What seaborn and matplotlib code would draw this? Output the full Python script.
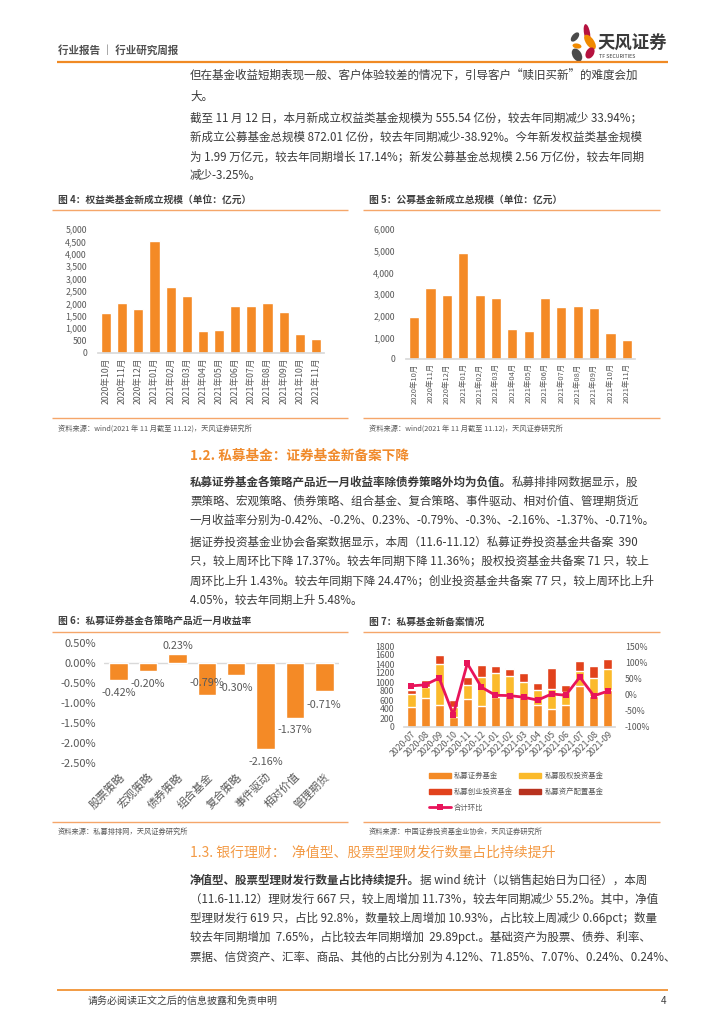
import numpy as np
import matplotlib
matplotlib.use("Agg")
import matplotlib.pyplot as plt
import seaborn as sns
from matplotlib.patches import Patch, Ellipse
from matplotlib.lines import Line2D
from matplotlib.ticker import FuncFormatter

# ---------------- data ----------------
months_a = ["2020年10月", "2020年11月", "2020年12月", "2021年01月", "2021年02月", "2021年03月",
            "2021年04月", "2021年05月", "2021年06月", "2021年07月", "2021年08月", "2021年09月",
            "2021年10月", "2021年11月"]
equity_new = [1595, 2000, 1757, 4500, 2650, 2310, 880, 945, 1880, 1890, 2015, 1650, 760, 556]
public_new = [1940, 3275, 2940, 4890, 2955, 2800, 1400, 1310, 2815, 2415, 2460, 2340, 1185, 872]

strategies = ["股票策略", "宏观策略", "债券策略", "组合基金", "复合策略", "事件驱动", "相对价值", "管理期货"]
returns = [-0.42, -0.20, 0.23, -0.79, -0.30, -2.16, -1.37, -0.71]

months_b = ["2020-07", "2020-08", "2020-09", "2020-10", "2020-11", "2020-12", "2021-01", "2021-02",
            "2021-03", "2021-04", "2021-05", "2021-06", "2021-07", "2021-08", "2021-09"]
sec_funds = [440, 655, 500, 230, 615, 460, 670, 700, 660, 480, 400, 480, 905, 700, 815]
equity_funds = [285, 245, 905, 210, 310, 650, 540, 440, 350, 335, 455, 300, 335, 400, 470]
venture_funds = [105, 145, 190, 155, 195, 270, 145, 160, 180, 165, 450, 160, 220, 260, 225]
asset_funds = [8, 6, 10, 5, 8, 12, 6, 8, 7, 6, 10, 5, 12, 8, 10]
total_mom = [27, 30, 51, -62, 96, 23, -2, -3, -8, -17, 2, -2, 54, -4, 11]

legend_labels = ["私募证券基金", "私募股权投资基金", "私募创业投资基金", "私募资产配置基金", "合计环比"]

# ---------------- style ----------------
ORANGE = "#F48A26"
YELLOW = "#FBBA2B"
RED = "#E2421C"
DARKRED = "#B8321E"
PINK = "#E8145A"
LINE_OR = "#F5A66A"
TXT = "#3A3A3A"
GREY = "#595959"

sns.set_theme(style="white")
plt.rcParams["font.family"] = ["Noto Sans CJK SC", "DejaVu Sans"]
plt.rcParams["axes.unicode_minus"] = False

W, H = 724, 1024
fig = plt.figure(figsize=(7.24, 10.24), dpi=100)
bg = fig.add_axes([0, 0, 1, 1])
bg.set_xlim(0, W)
bg.set_ylim(H, 0)
bg.axis("off")


def rect(x0, y0, x1, y1):
    return [x0 / W, 1 - y1 / H, (x1 - x0) / W, (y1 - y0) / H]


def hline(x0, x1, y, color=LINE_OR, lw=1.0):
    bg.plot([x0, x1], [y, y], color=color, lw=lw, solid_capstyle="butt")


# ---------------- header ----------------
bg.text(58, 50, "行业报告 ｜ 行业研究周报", fontsize=7.6, color="#505050", weight="bold", va="center")
hline(57, 668, 62, color="#F08A24", lw=1.6)
# logo
for (cx, cy, w, h, ang, c) in [
    (587, 33, 6, 18, -10, "#B5123F"),
    (590, 42, 8, 17, -35, "#F08A00"),
    (575, 37, 6, 11, 40, "#4A4A4A"),
    (577, 46, 9, 5, 10, "#F08A00"),
    (577, 55, 9, 14, -30, "#4A4A4A"),
    (590, 53, 8, 12, 30, "#B5123F"),
]:
    bg.add_patch(Ellipse((cx, cy), w, h, angle=ang, color=c, lw=0))
bg.text(598, 44, "天风证券", fontsize=12.5, weight="bold", color="#3A3A3A", va="center")
bg.text(599, 56.5, "TF SECURITIES", fontsize=3.8, color="#3A3A3A", va="center")

# ---------------- body text ----------------
FS = 8.3
LX = 190


def para(lines, y0, step=19.3):
    for i, s in enumerate(lines):
        bg.text(LX, y0 + i * step, s, fontsize=FS, color=TXT, va="center")


def bold_line(bold, rest, y):
    t = bg.text(LX, y, bold, fontsize=FS, color=TXT, weight="bold", va="center")
    bg.annotate(rest, xy=(1, 0.5), xycoords=t, fontsize=FS, color=TXT, va="center", ha="left")


para(["但在基金收益短期表现一般、客户体验较差的情况下，引导客户“赎旧买新”的难度会加",
      "大。"], 76, step=20)
para(["截至 11 月 12 日，本月新成立权益类基金规模为 555.54 亿份，较去年同期减少 33.94%；",
      "新成立公募基金总规模 872.01 亿份，较去年同期减少-38.92%。今年新发权益类基金规模",
      "为 1.99 万亿元，较去年同期增长 17.14%；新发公募基金总规模 2.56 万亿份，较去年同期",
      "减少-3.25%。"], 118)

bg.text(LX, 456, "1.2. 私募基金：证券基金新备案下降", fontsize=9.8, color="#F08A2B", weight="bold", va="center")
bold_line("私募证券基金各策略产品近一月收益率除债券策略外均为负值。", "私募排排网数据显示，股", 482)
para(["票策略、宏观策略、债券策略、组合基金、复合策略、事件驱动、相对价值、管理期货近",
      "一月收益率分别为-0.42%、-0.2%、0.23%、-0.79%、-0.3%、-2.16%、-1.37%、-0.71%。"], 501.5)
para(["据证券投资基金业协会备案数据显示，本周（11.6-11.12）私募证券投资基金共备案  390",
      "只，较上周环比下降 17.37%。较去年同期下降 11.36%；股权投资基金共备案 71 只，较上",
      "周环比上升 1.43%。较去年同期下降 24.47%；创业投资基金共备案 77 只，较上周环比上升",
      "4.05%，较去年同期上升 5.48%。"], 542)

bg.text(LX, 853, "1.3. 银行理财：  净值型、股票型理财发行数量占比持续提升", fontsize=10, color="#F39A45", va="center")
bold_line("净值型、股票型理财发行数量占比持续提升。", "据 wind 统计（以销售起始日为口径），本周", 880)
para(["（11.6-11.12）理财发行 667 只，较上周增加 11.73%，较去年同期减少 55.2%。其中，净值",
      "型理财发行 619 只，占比 92.8%，数量较上周增加 10.93%，占比较上周减少 0.66pct；数量",
      "较去年同期增加  7.65%，占比较去年同期增加  29.89pct.。基础资产为股票、债券、利率、",
      "票据、信贷资产、汇率、商品、其他的占比分别为 4.12%、71.85%、7.07%、0.24%、0.24%、"], 899)

# footer
hline(57, 668, 990, color="#F08A24", lw=1.2)
bg.text(88, 1001, "请务必阅读正文之后的信息披露和免责申明", fontsize=7.2, color="#404040", va="center")
bg.text(666, 1001, "4", fontsize=7.2, color="#404040", va="center", ha="right")

# ---------------- chart titles / sources ----------------
TFS = 7.0
SFS = 5.2
bg.text(58, 200, "图 4：权益类基金新成立规模（单位：亿元）", fontsize=TFS, weight="bold", color="#404040", va="center")
bg.text(369, 200, "图 5：公募基金新成立总规模（单位：亿元）", fontsize=TFS, weight="bold", color="#404040", va="center")
hline(52, 348, 210)
hline(363, 660, 210)
hline(52, 348, 418)
hline(363, 660, 418)
bg.text(58, 429, "资料来源：wind(2021 年 11 月截至 11.12)，天风证券研究所", fontsize=SFS, color=GREY, va="center")
bg.text(369, 429, "资料来源：wind(2021 年 11 月截至 11.12)，天风证券研究所", fontsize=SFS, color=GREY, va="center")

bg.text(58, 622, "图 6：私募证券基金各策略产品近一月收益率", fontsize=TFS, weight="bold", color="#404040", va="center")
bg.text(369, 622, "图 7：私募基金新备案情况", fontsize=TFS, weight="bold", color="#404040", va="center")
hline(52, 348, 632)
hline(363, 660, 632)
hline(52, 348, 822)
hline(363, 660, 822)
bg.text(58, 832, "资料来源：私募排排网，天风证券研究所", fontsize=SFS, color=GREY, va="center")
bg.text(369, 832, "资料来源：中国证券投资基金业协会，天风证券研究所", fontsize=SFS, color=GREY, va="center")


def clean(ax, left=True):
    sns.despine(ax=ax, left=left)
    ax.spines["bottom"].set_color("#D9D9D9")
    ax.set_xlabel("")
    ax.set_ylabel("")


# ---------------- chart 4 ----------------
ax4 = fig.add_axes(rect(98, 229, 324, 353))
sns.barplot(x=months_a, y=equity_new, color=ORANGE, saturation=1, width=0.62, errorbar=None, ax=ax4)
ax4.set_ylim(0, 5000)
ax4.set_yticks(np.arange(0, 5001, 500))
ax4.yaxis.set_major_formatter(FuncFormatter(lambda v, p: f"{int(v):,}"))
ax4.tick_params(axis="both", length=0, labelsize=6.3, colors=GREY)
ax4.tick_params(axis="x", labelrotation=90, pad=3)
ax4.tick_params(axis="y", pad=8)
clean(ax4)

# ---------------- chart 5 ----------------
ax5 = fig.add_axes(rect(406, 229, 635, 359))
sns.barplot(x=months_a, y=public_new, color=ORANGE, saturation=1, width=0.62, errorbar=None, ax=ax5)
ax5.set_ylim(0, 6000)
ax5.set_yticks(np.arange(0, 6001, 1000))
ax5.yaxis.set_major_formatter(FuncFormatter(lambda v, p: f"{int(v):,}"))
ax5.tick_params(axis="both", length=0, labelsize=6.3, colors=GREY)
ax5.tick_params(axis="x", labelrotation=90, pad=3, labelsize=5.4)
ax5.tick_params(axis="y", pad=8)
clean(ax5)

# ---------------- chart 6 ----------------
ax6 = fig.add_axes(rect(104, 643, 339, 763))
sns.barplot(x=strategies, y=returns, color=ORANGE, saturation=1, width=0.63, errorbar=None, ax=ax6)
ax6.set_ylim(-2.5, 0.5)
ax6.set_yticks(np.arange(-2.5, 0.51, 0.5))
ax6.yaxis.set_major_formatter(FuncFormatter(lambda v, p: f"{v:.2f}%"))
ax6.axhline(0, color="#D9D9D9", lw=1.0, zorder=0)
ax6.tick_params(axis="both", length=0, labelsize=8, colors=GREY)
ax6.tick_params(axis="y", pad=6)
ax6.tick_params(axis="x", labelrotation=45, pad=6)
for t in ax6.get_xticklabels():
    t.set_ha("right")
    t.set_rotation_mode("anchor")
sns.despine(ax=ax6, left=True, bottom=True)
ax6.set_xlabel("")
ax6.set_ylabel("")
label_offset_px = [-13, -13, 8, 12, -13, -13, -12, -14]
for bar, v, off in zip(ax6.patches, returns, label_offset_px):
    ax6.annotate(f"{v:.2f}%", xy=(bar.get_x() + bar.get_width() / 2, v),
                 xytext=(0, off * 0.72), textcoords="offset points",
                 ha="center", va="center", fontsize=7.8, color=GREY)

# ---------------- chart 7 ----------------
ax7 = fig.add_axes(rect(404, 646, 615, 727))
stack = np.cumsum(np.array([sec_funds, equity_funds, venture_funds, asset_funds]), axis=0)
for vals, c in [(stack[3], DARKRED), (stack[2], RED), (stack[1], YELLOW), (stack[0], ORANGE)]:
    sns.barplot(x=months_b, y=vals, color=c, saturation=1, width=0.64, errorbar=None, ax=ax7)
ax7.set_ylim(0, 1800)
ax7.set_yticks(np.arange(0, 1801, 200))
ax7r = ax7.twinx()
sns.pointplot(x=months_b, y=total_mom, color=PINK, marker="s", markersize=4.2,
              markeredgewidth=0, linewidth=2.0, errorbar=None, ax=ax7r)
ax7r.set_ylim(-100, 150)
ax7r.set_yticks(np.arange(-100, 151, 50))
ax7r.yaxis.set_major_formatter(FuncFormatter(lambda v, p: f"{int(v)}%"))
ax7.tick_params(axis="both", length=0, labelsize=6.3, colors=GREY)
ax7.tick_params(axis="y", pad=7)
ax7.tick_params(axis="x", labelrotation=45, pad=2)
ax7r.tick_params(axis="both", length=0, labelsize=6.3, colors=GREY)
ax7r.tick_params(axis="y", pad=7)
for t in ax7.get_xticklabels():
    t.set_ha("right")
    t.set_rotation_mode("anchor")
clean(ax7)
for s in ax7r.spines.values():
    s.set_visible(False)
ax7r.set_ylabel("")
ax7r.set_xlabel("")

handles = [Patch(color=ORANGE), Patch(color=YELLOW), Patch(color=RED), Patch(color=DARKRED),
           Line2D([], [], color=PINK, lw=2.0, marker="s", markersize=4.2, markeredgewidth=0)]
order = [0, 2, 4, 1, 3]
ax7.legend([handles[i] for i in order], [legend_labels[i] for i in order], ncol=2,
           loc="upper left", bbox_to_anchor=(425 / W, 1 - 768 / H), bbox_transform=fig.transFigure,
           frameon=False, fontsize=5.3, handlelength=3.0, handleheight=0.7,
           handletextpad=0.4, columnspacing=0.9, labelspacing=1.1, borderpad=0,
           labelcolor=GREY)

fig.savefig("out.png", dpi=100)
